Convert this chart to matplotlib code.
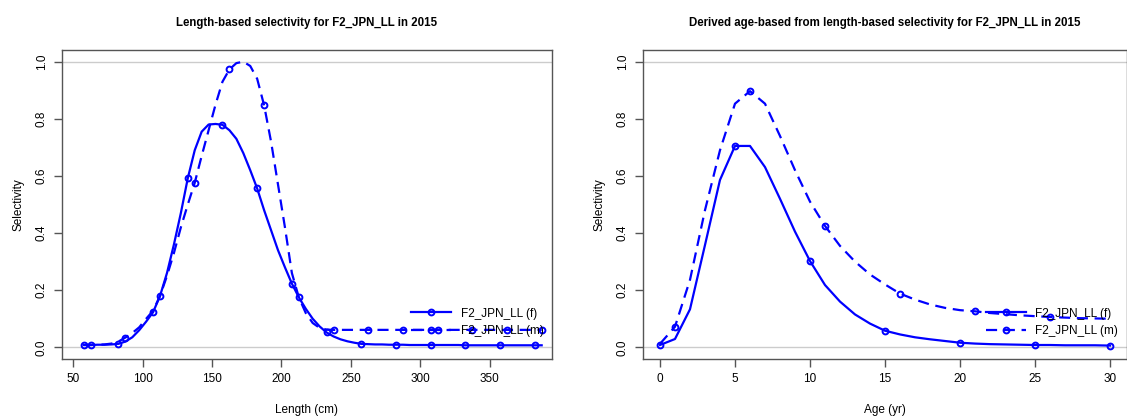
import numpy as np
from matplotlib import pyplot as plt

plt.rcParams['font.family'] = ['Liberation Sans', 'DejaVu Sans']

fleet = "F2_JPN_LL"
year = 2015

# Length-based selectivity (bin midpoints, cm)
length = np.arange(57.5, 390, 5.0)
sel_len_f = [0.008, 0.008, 0.009, 0.009, 0.010, 0.012, 0.020, 0.035, 0.060, 0.090,
             0.123, 0.180, 0.260, 0.360, 0.470, 0.592, 0.690, 0.755, 0.780, 0.782,
             0.779, 0.760, 0.730, 0.680, 0.620, 0.556, 0.480, 0.410, 0.340, 0.280,
             0.223, 0.175, 0.135, 0.100, 0.073, 0.052, 0.038, 0.028, 0.021, 0.016,
             0.012, 0.011, 0.010, 0.010, 0.009, 0.009, 0.009, 0.008, 0.008, 0.008,
             0.008, 0.008, 0.008, 0.008, 0.008, 0.007, 0.007, 0.007, 0.007, 0.007,
             0.007, 0.007, 0.007, 0.007, 0.007, 0.007, 0.007]
sel_len_m = [0.008, 0.008, 0.009, 0.010, 0.013, 0.020, 0.034, 0.050, 0.070, 0.100,
             0.128, 0.180, 0.250, 0.330, 0.420, 0.500, 0.576, 0.670, 0.760, 0.850,
             0.930, 0.973, 0.995, 1.000, 0.985, 0.940, 0.847, 0.720, 0.570, 0.420,
             0.260, 0.175, 0.120, 0.085, 0.068, 0.062, 0.061, 0.061, 0.061, 0.061,
             0.061, 0.061, 0.061, 0.061, 0.061, 0.061, 0.061, 0.061, 0.061, 0.061,
             0.061, 0.061, 0.061, 0.061, 0.061, 0.061, 0.061, 0.061, 0.061, 0.061,
             0.061, 0.061, 0.061, 0.061, 0.061, 0.061, 0.061]

# Derived age-based selectivity
age = np.arange(0, 31)
sel_age_f = [0.008, 0.029, 0.133, 0.358, 0.586, 0.705, 0.705, 0.631, 0.520, 0.405,
             0.302, 0.218, 0.160, 0.115, 0.083, 0.058, 0.045, 0.035, 0.028, 0.022,
             0.016, 0.013, 0.011, 0.010, 0.009, 0.008, 0.008, 0.007, 0.007, 0.007,
             0.006]
sel_age_m = [0.012, 0.072, 0.236, 0.480, 0.690, 0.853, 0.897, 0.853, 0.740, 0.620,
             0.510, 0.425, 0.355, 0.300, 0.255, 0.220, 0.188, 0.167, 0.150, 0.138,
             0.130, 0.126, 0.120, 0.116, 0.112, 0.109, 0.106, 0.104, 0.102, 0.101,
             0.100]

blue = "#0000FF"
axcol = "#555555"


def draw_panel(ax, x, yf, ym, xlim, xticks, xlabel, title):
    ax.axhline(0, color="#cccccc", lw=1, zorder=1)
    ax.axhline(1, color="#cccccc", lw=1, zorder=1)
    kw = dict(color=blue, lw=1.6, marker="o", ms=4.2, mfc="none", mew=1.4)
    ax.plot(x, yf, ls="-", markevery=slice(0, None, 5), label=f"{fleet} (f)", **kw)
    ax.plot(x, ym, ls=(0, (5, 3)), markevery=slice(1, None, 5), label=f"{fleet} (m)", **kw)
    ax.set_xlim(*xlim)
    ax.set_ylim(-0.041, 1.041)
    ax.set_xticks(xticks)
    ax.set_yticks(np.arange(0, 1.01, 0.2))
    ax.set_yticklabels([f"{v:.1f}" for v in np.arange(0, 1.01, 0.2)],
                       rotation=90, va="center")
    ax.tick_params(direction="out", length=6, width=1, color=axcol,
                   labelsize=8.5, pad=4)
    for s in ax.spines.values():
        s.set_color(axcol)
        s.set_linewidth(1)
    ax.set_xlabel(xlabel, fontsize=8.5, labelpad=14)
    ax.set_ylabel("Selectivity", fontsize=8.5, labelpad=8)
    ax.set_title(title, fontsize=8.3, fontweight="bold", pad=17)
    ax.legend(loc="lower right", frameon=False, fontsize=8.5, numpoints=1,
              handlelength=3.4, handletextpad=0.8, labelspacing=0.45,
              borderaxespad=0.3, bbox_to_anchor=(1.0, 0.045))


fig = plt.figure(figsize=(11.27, 4.19), dpi=100)
ax1 = fig.add_axes([0.0547, 0.1432, 0.4348, 0.7375])
ax2 = fig.add_axes([0.5703, 0.1432, 0.4293, 0.7375])

draw_panel(ax1, length, sel_len_f, sel_len_m, (41.6, 394.7),
           [50, 100, 150, 200, 250, 300, 350], "Length (cm)",
           f"Length-based selectivity for {fleet} in {year}")
draw_panel(ax2, age, sel_age_f, sel_age_m, (-1.15, 31.1),
           [0, 5, 10, 15, 20, 25, 30], "Age (yr)",
           f"Derived age-based from length-based selectivity for {fleet} in {year}")

fig.savefig("out.png", dpi=100)
